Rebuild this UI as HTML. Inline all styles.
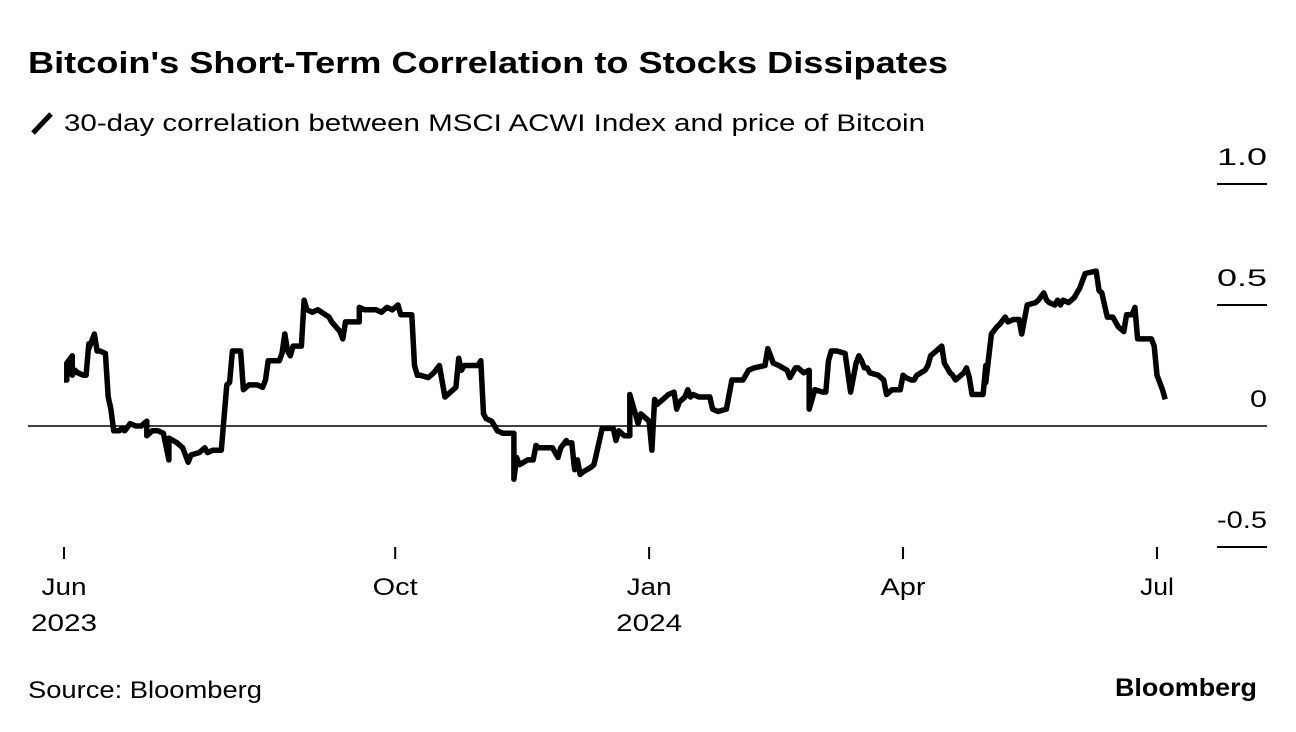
<!DOCTYPE html>
<html><head><meta charset="utf-8">
<style>
body{margin:0;background:#fff;width:1296px;height:732px;overflow:hidden;font-family:"Liberation Sans",Arial,sans-serif;}
svg{position:absolute;left:0;top:0}
</style></head>
<body>
<svg id="c" width="1296" height="732">
<text x="28" y="73" font-size="31" font-weight="bold" fill="#000" textLength="920" lengthAdjust="spacingAndGlyphs">Bitcoin's Short-Term Correlation to Stocks Dissipates</text>
<line x1="33" y1="133" x2="51" y2="114" stroke="#000" stroke-width="5"/>
<text x="64" y="131" font-size="24" fill="#000" textLength="861" lengthAdjust="spacingAndGlyphs">30-day correlation between MSCI ACWI Index and price of Bitcoin</text>
<g id="axes"></g>
<path id="line" fill="none" stroke="#000" stroke-width="5.5" stroke-linejoin="round"/>
<text x="28" y="698" font-size="24" fill="#000" textLength="234" lengthAdjust="spacingAndGlyphs">Source: Bloomberg</text>
<text x="1115" y="696" font-size="25" font-weight="bold" fill="#000" textLength="142" lengthAdjust="spacingAndGlyphs">Bloomberg</text>
</svg>
<script>
const days=[0,1,1,3,3,4,5,7,8,9,9,11,12,13,15,16,17,18,20,21,22,24,26,28,30,30,32,34,36,38,38,41,43,45,46,49,51,52,54,57,59,60,61,64,65,67,70,72,73,74,78,79,80,81,82,83,86,87,88,90,92,96,97,100,101,102,105,107,107,109,113,115,117,119,121,122,123,126,127,128,
129,132,134,136,138,142,143,144,145,150,151,152,153,155,157,159,161,163,163,164,165,168,170,171,172,177,179,180,182,182,184,185,186,187,188,191,192,193,195,199,200,201,203,205,205,208,209,211,212,213,214,215,217,219,221,222,223,225,226,227,228,230,234,235,237,240,242,246,248,250,254,255,257,259,262,263,265,
266,268,270,270,272,275,276,277,278,280,283,285,287,288,289,290,291,292,295,297,297,298,300,303,304,305,307,308,309,312,313,314,316,318,319,321,322,323,326,327,328,329,333,334,334,336,338,339,341,342,344,346,347,349,352,353,355,356,357,359,360,361,362,364,366,368,370,374,375,376,378,380,382,384,385,387,388,389,391,392,394,395,396,398,399];
const values=[0.19,0.19,0.26,0.29,0.21,0.23,0.22,0.21,0.21,0.34,0.32,0.38,0.31,0.31,0.30,0.12,0.07,-0.02,-0.02,-0.01,-0.02,0.01,0,0,0.02,-0.04,-0.02,-0.02,-0.03,-0.14,-0.05,-0.07,-0.09,-0.15,-0.12,-0.11,-0.09,-0.11,-0.10,-0.10,0.17,0.18,0.31,0.31,0.15,0.17,0.17,0.16,0.19,0.27,0.27,0.30,0.38,0.31,0.29,0.33,0.33,0.52,0.48,0.47,0.48,0.45,0.43,0.39,0.36,0.43,0.43,0.43,0.49,0.48,0.48,0.47,0.49,0.48,0.50,0.46,0.46,0.46,0.25,0.21,
0.21,0.20,0.22,0.25,0.12,0.16,0.28,0.23,0.25,0.25,0.27,0.05,0.03,0.02,-0.02,-0.03,-0.03,-0.03,-0.22,-0.13,-0.16,-0.14,-0.14,-0.08,-0.09,-0.09,-0.13,-0.09,-0.06,-0.07,-0.07,-0.18,-0.14,-0.20,-0.19,-0.17,-0.16,-0.11,-0.01,-0.01,-0.06,-0.02,-0.04,-0.04,0.13,0.01,0.05,0.03,0.02,-0.10,0.11,0.09,0.11,0.13,0.14,0.07,0.10,0.12,0.15,0.12,0.13,0.12,0.12,0.07,0.06,0.07,0.19,0.19,0.23,0.24,0.25,0.32,0.26,0.25,0.23,0.20,0.24,
0.24,0.22,0.23,0.07,0.15,0.14,0.14,0.27,0.31,0.31,0.30,0.14,0.26,0.29,0.27,0.24,0.24,0.22,0.21,0.19,0.19,0.13,0.15,0.15,0.21,0.20,0.19,0.19,0.21,0.23,0.25,0.29,0.31,0.33,0.26,0.22,0.21,0.19,0.22,0.24,0.20,0.13,0.13,0.25,0.18,0.38,0.41,0.42,0.45,0.43,0.44,0.44,0.38,0.50,0.51,0.52,0.55,0.52,0.51,0.50,0.52,0.50,0.52,0.51,0.53,0.57,0.63,0.64,0.56,0.55,0.45,0.45,0.41,0.39,0.46,0.46,0.49,0.36,0.36,0.36,0.36,0.33,0.21,0.15,0.11];
const yTicks=[1.0,0.5,0,-0.5];
const yTickLabels=["1.0","0.5","0","-0.5"];
const xTickDays=[0,120,212,304,396];
const xTickLabels=["Jun","Oct","Jan","Apr","Jul"];
const xTickYears=["2023","","2024","",""];
const X=d=>64+d*2.76;
const Y=v=>426-v*242;
const NS="http://www.w3.org/2000/svg";
const ax=document.getElementById('axes');
function mk(t,a){const e=document.createElementNS(NS,t);for(const k in a)e.setAttribute(k,a[k]);ax.appendChild(e);return e;}
function tl(s){return Math.round(s.length*12.5+(s.length<2?4:0));}
yTicks.forEach((v,i)=>{
  const l=mk('line',{x1:v===0?28:1217,x2:1267,y1:Y(v),y2:Y(v),stroke:'#000','stroke-width':v===0?1.5:2});
  
  
  const s=yTickLabels[i];
  const t=mk('text',{x:1267,y:Y(v)-19,'font-size':24,'text-anchor':'end',fill:'#000',textLength:s.length===1?17:50,lengthAdjust:'spacingAndGlyphs'});
  t.textContent=s;
  
  
});
xTickDays.forEach((d,i)=>{
  const l=mk('line',{x1:X(d),x2:X(d),y1:547,y2:559,stroke:'#000','stroke-width':2});
  
  
  const t=mk('text',{x:X(d),y:595,'font-size':24,'text-anchor':'middle',fill:'#000',textLength:xTickLabels[i]==='Jul'?34:45,lengthAdjust:'spacingAndGlyphs'});
  t.textContent=xTickLabels[i];
  
  
  if(xTickYears[i]){
    const y=mk('text',{x:X(d),y:631,'font-size':24,'text-anchor':'middle',fill:'#000',textLength:66,lengthAdjust:'spacingAndGlyphs'});
    y.textContent=xTickYears[i];
    
    
  }
});
document.getElementById('line').setAttribute('d',days.map((d,i)=>(i?'L':'M')+X(d).toFixed(1)+','+Y(values[i]).toFixed(1)).join(''));
</script>
</body></html>
